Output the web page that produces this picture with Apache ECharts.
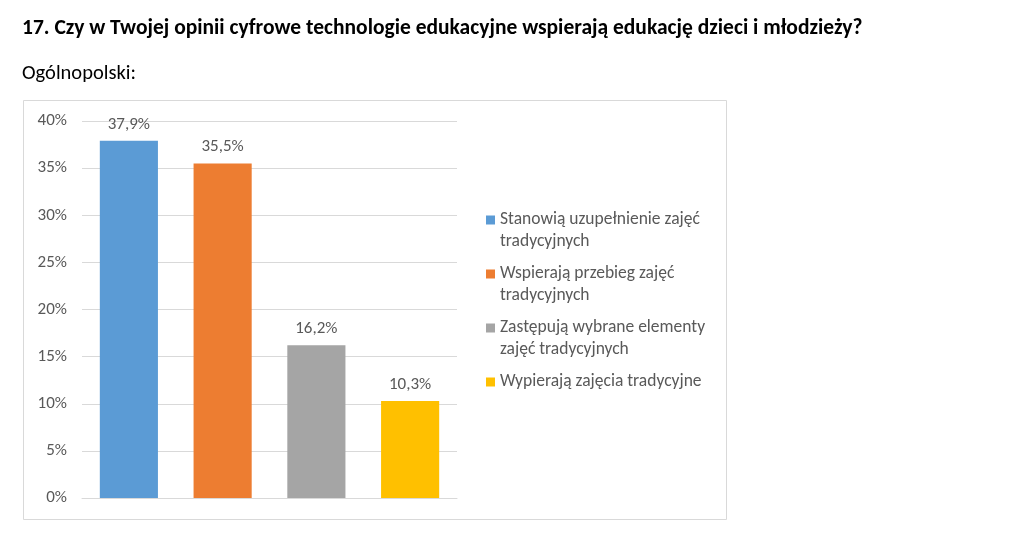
<!DOCTYPE html>
<html>
<head>
<meta charset="utf-8">
<script src="https://cdn.jsdelivr.net/npm/echarts@6/dist/echarts.min.js"></script>
<style>
html,body{margin:0;padding:0;background:#fff;}
#c{width:1024px;height:550px;}
</style>
</head>
<body>
<div id="c"></div>
<script>
const titleText = '17. Czy w Twojej opinii cyfrowe technologie edukacyjne wspierają edukację dzieci i młodzieży?';
const subtitleText = 'Ogólnopolski:';
const categories = [
  'Stanowią uzupełnienie zajęć tradycyjnych',
  'Wspierają przebieg zajęć tradycyjnych',
  'Zastępują wybrane elementy zajęć tradycyjnych',
  'Wypierają zajęcia tradycyjne'
];
const legendLines = [
  ['Stanowią uzupełnienie zajęć', 'tradycyjnych'],
  ['Wspierają przebieg zajęć', 'tradycyjnych'],
  ['Zastępują wybrane elementy', 'zajęć tradycyjnych'],
  ['Wypierają zajęcia tradycyjne']
];
const values = [37.9, 35.5, 16.2, 10.3];
const colors = ['#5B9BD5', '#ED7D31', '#A5A5A5', '#FFC000'];
const yMin = 0, yMax = 40, yStep = 5;

const FONT = 'Carlito, Lato, sans-serif';
const GRAY = '#595959';
const LH = 22;
const LFS = 17.5;

const chart = echarts.init(document.getElementById('c'));

const rich = {
  t: { fontFamily: FONT, fontSize: LFS, color: GRAY, lineHeight: LH, padding: [0, 0, 0, 5] },
  u: { fontFamily: FONT, fontSize: LFS, color: GRAY, lineHeight: LH, padding: [0, 0, 0, 14] }
};
colors.forEach((c, i) => {
  rich['s' + i] = { width: 9, height: 9, backgroundColor: c, lineHeight: LH, fontSize: 1 };
});

const option = {
  backgroundColor: '#fff',
  animation: false,
  title: [
    { text: titleText, left: 22, top: 18, padding: 0,
      textStyle: { fontFamily: FONT, fontSize: 21.5, fontWeight: 'bold', color: '#000' } },
    { text: subtitleText, left: 22, top: 63, padding: 0,
      textStyle: { fontFamily: FONT, fontSize: 20.5, fontWeight: 'normal', color: '#000' } }
  ],
  graphic: [
    { type: 'rect', z: -10, silent: true,
      shape: { x: 23.5, y: 100.5, width: 703, height: 419 },
      style: { fill: '#fff', stroke: '#D9D9D9', lineWidth: 1 } }
  ],
  grid: { left: 82, right: 567, top: 121, bottom: 52, containLabel: false },
  legend: {
    orient: 'vertical',
    left: 481,
    top: 209,
    padding: 0,
    itemGap: 10,
    itemWidth: 0,
    itemHeight: 9,
    itemStyle: { opacity: 0, borderWidth: 0 },
    selectedMode: false,
    data: categories,
    formatter: function (name) {
      const i = categories.indexOf(name);
      const lines = legendLines[i];
      return lines.map((l, k) => k === 0 ? '{s' + i + '| }{t|' + l + '}' : '{u|' + l + '}').join('\n');
    },
    textStyle: { fontFamily: FONT, fontSize: LFS, color: GRAY, lineHeight: LH, rich: rich }
  },
  xAxis: {
    type: 'category',
    data: categories,
    axisLabel: { show: false },
    axisTick: { show: false },
    axisLine: { show: true, lineStyle: { color: '#D9D9D9', width: 1 } }
  },
  yAxis: {
    type: 'value',
    min: yMin, max: yMax, interval: yStep,
    axisLine: { show: false },
    axisTick: { show: false },
    axisLabel: { formatter: '{value}%', margin: 15, fontFamily: FONT, fontSize: 17, color: GRAY },
    splitLine: { lineStyle: { color: '#D9D9D9', width: 1 } }
  },
  series: categories.map((name, i) => ({
    name: name,
    type: 'bar',
    barWidth: '62%',
    barGap: '-100%',
    data: values.map((v, j) => (j === i ? v : '-')),
    itemStyle: { color: colors[i] },
    label: {
      show: true,
      position: 'top',
      distance: 8,
      fontFamily: FONT,
      fontSize: 17,
      color: GRAY,
      formatter: p => p.value.toFixed(1).replace('.', ',') + '%'
    }
  }))
};
chart.setOption(option);
</script>
</body>
</html>
